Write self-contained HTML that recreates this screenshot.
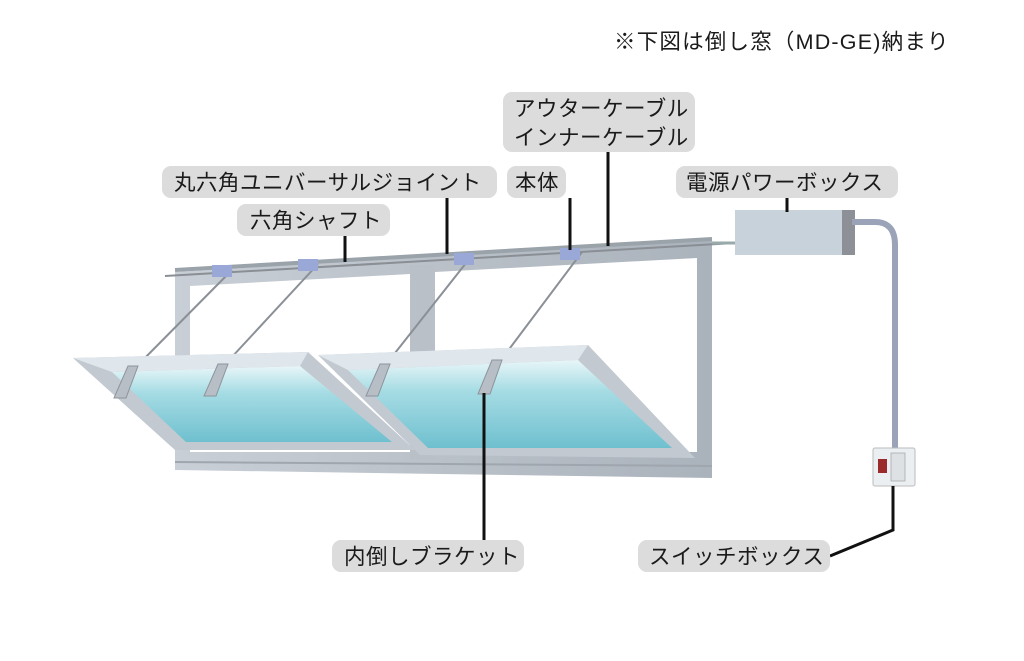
<!DOCTYPE html>
<html><head><meta charset="utf-8"><style>
html,body{margin:0;padding:0;background:#fff;}
svg{display:block}
text{font-family:"Liberation Sans","Noto Sans CJK JP",sans-serif;fill:#1a1a1a;font-size:21.5px;letter-spacing:0.5px}
</style></head><body>
<svg width="1024" height="661" viewBox="0 0 1024 661" xmlns="http://www.w3.org/2000/svg">
<defs>
<linearGradient id="gl" x1="0" y1="0" x2="0" y2="1">
<stop offset="0" stop-color="#e8f6f8"/><stop offset="0.35" stop-color="#a6dce4"/><stop offset="1" stop-color="#6fc0cf"/>
</linearGradient>
<linearGradient id="fr" x1="0" y1="0" x2="1" y2="0">
<stop offset="0" stop-color="#c9cfd6"/><stop offset="1" stop-color="#aab2bb"/>
</linearGradient>
</defs>
<text x="614" y="49" style="letter-spacing:1.2px">※下図は倒し窓（MD-GE)納まり</text>

<!-- outer frame -->
<polygon points="175,272 712,240 712,478 175,470" fill="url(#fr)"/>
<polygon points="190,286 410,274 410,452 190,452" fill="#fff"/>
<polygon points="435,272 697,258 697,452 435,452" fill="#fff"/>
<line x1="175" y1="270" x2="712" y2="239" stroke="#9aa2aa" stroke-width="4"/>
<line x1="165" y1="276" x2="735" y2="243" stroke="#8a8f95" stroke-width="2"/>
<rect x="410" y="265" width="25" height="195" fill="#b9c0c8"/>
<line x1="175" y1="462" x2="712" y2="466" stroke="#9fa6ae" stroke-width="2"/>

<!-- arms -->
<g stroke="#8a9096" stroke-width="2">
<line x1="232" y1="270" x2="128" y2="375"/>
<line x1="318" y1="264" x2="218" y2="372"/>
<line x1="470" y1="258" x2="380" y2="372"/>
<line x1="582" y1="252" x2="492" y2="372"/>
</g>
<g fill="#9aa8d8">
<rect x="212" y="265" width="20" height="12"/><rect x="298" y="259" width="20" height="12"/>
<rect x="454" y="253" width="20" height="12"/><rect x="560" y="248" width="20" height="12"/>
</g>

<!-- left sash -->
<polygon points="73,358 308,352 415,450 175,450" fill="#c2c9d0"/>
<polygon points="112,372 300,366 392,442 186,442" fill="url(#gl)"/>
<polygon points="73,358 308,352 300,366 112,372" fill="#dfe6ec"/>
<!-- right sash -->
<polygon points="318,355 588,345 695,458 420,455" fill="#c2c9d0"/>
<polygon points="348,370 578,360 672,448 428,448" fill="url(#gl)"/>
<polygon points="318,355 588,345 578,360 348,370" fill="#dfe6ec"/>
<!-- brackets -->
<g fill="#b7bec6" stroke="#8d949b" stroke-width="1">
<polygon points="128,366 138,366 126,398 114,398"/>
<polygon points="218,364 228,364 216,396 204,396"/>
<polygon points="380,364 390,364 378,396 366,396"/>
<polygon points="492,360 502,360 490,394 478,394"/>
</g>

<!-- power box -->
<rect x="735" y="210" width="120" height="45" fill="#c8d2db"/>
<rect x="842" y="210" width="13" height="45" fill="#8d9197"/>
<line x1="712" y1="243" x2="735" y2="243" stroke="#9aa" stroke-width="3"/>
<path d="M852,222 L875,222 Q895,222 895,245 L895,450" fill="none" stroke="#9aa3b8" stroke-width="6"/>
<!-- switch box -->
<rect x="873" y="448" width="42" height="38" rx="2" fill="#eceff1" stroke="#bbb"/>
<rect x="878" y="459" width="9" height="14" fill="#9b2a2a"/>
<rect x="891" y="453" width="14" height="28" fill="#dde1e4" stroke="#aaa" stroke-width="0.8"/>

<!-- leader lines -->
<g stroke="#111" stroke-width="3" fill="none">
<line x1="345" y1="236" x2="345" y2="262"/>
<line x1="447" y1="198" x2="447" y2="254"/>
<line x1="570" y1="198" x2="570" y2="250"/>
<line x1="608" y1="152" x2="608" y2="246"/>
<line x1="787" y1="198" x2="787" y2="212"/>
<line x1="484" y1="393" x2="484" y2="542"/>
<polyline points="830,556 893,530 893,486"/>
</g>

<!-- labels -->
<g fill="#dcdcdc">
<rect x="503" y="92" width="192" height="60" rx="9"/>
<rect x="162" y="166" width="335" height="32" rx="9"/>
<rect x="507" y="166" width="59" height="32" rx="9"/>
<rect x="676" y="166" width="222" height="32" rx="9"/>
<rect x="237" y="204" width="153" height="32" rx="9"/>
<rect x="332" y="540" width="192" height="32" rx="9"/>
<rect x="638" y="540" width="192" height="32" rx="9"/>
</g>
<text x="514" y="116">アウターケーブル</text>
<text x="514" y="145">インナーケーブル</text>
<text x="174" y="190">丸六角ユニバーサルジョイント</text>
<text x="515" y="190">本体</text>
<text x="686" y="190">電源パワーボックス</text>
<text x="250" y="228">六角シャフト</text>
<text x="344" y="564">内倒しブラケット</text>
<text x="649" y="564">スイッチボックス</text>
</svg>
</body></html>
